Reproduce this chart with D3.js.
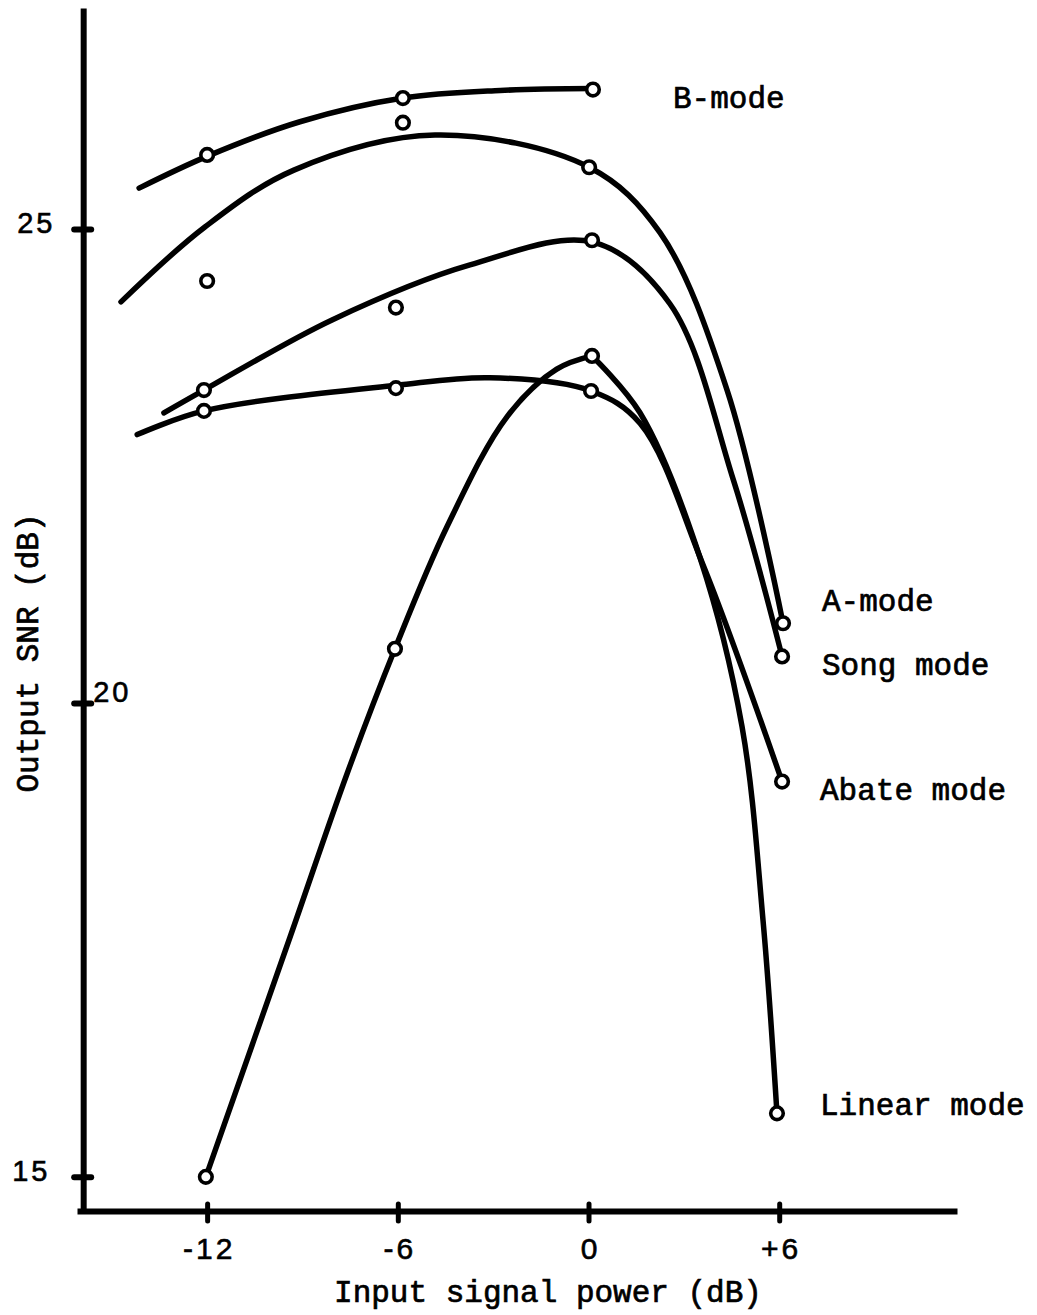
<!DOCTYPE html>
<html>
<head>
<meta charset="utf-8">
<script src="https://cdn.jsdelivr.net/npm/d3@7"></script>
<style>
  html, body { margin: 0; padding: 0; background: #fff; }
  svg { display: block; }
  .mono { font-family: "Liberation Mono", "Courier New", "DejaVu Sans Mono", monospace; fill: #000; stroke: #000; stroke-width: 0.7px; }
  .sans { font-family: "Liberation Sans", Arial, "DejaVu Sans", sans-serif; fill: #000; stroke: #000; stroke-width: 0.6px; }
</style>
</head>
<body>
<svg id="chart" width="1037" height="1315"></svg>
<script>
// Axis ticks
const xTicks = [-12, -6, 0, 6];
const xTickLabels = ["-12", "-6", "0", "+6"];
const yTicks = [15, 20, 25];
const yTickLabels = ["15", "20", "25"];

// Measured points (input signal power dB, output SNR dB)
const bModePtsX = [-12, -5.84, 0.14];
const bModePtsY = [25.78, 26.38, 26.47];
const aModePtsX = [-12, -5.84, 0.02, 6.12];
const aModePtsY = [24.45, 26.12, 25.65, 20.84];
const songPtsX = [-12.1, -6.06, 0.11, 6.09];
const songPtsY = [23.30, 24.17, 24.88, 20.49];
const abatePtsX = [-12.1, -6.06, 0.08, 6.09];
const abatePtsY = [23.08, 23.32, 23.29, 19.17];
const linearPtsX = [-12.04, -6.09, 0.11, 5.93];
const linearPtsY = [15.0, 20.57, 23.66, 15.67];

// Hand-fitted smooth curves drawn through each mode's results
const bModeCurveX = [-14.14, -11.97, -9.08, -5.84, -2.78, 0.14];
const bModeCurveY = [25.43, 25.77, 26.13, 26.38, 26.46, 26.48];
const aModeCurveX = [-14.71, -12.07, -9.27, -4.83, 0.02, 2.25, 4.36, 6.12];
const aModeCurveY = [24.23, 25.02, 25.62, 25.99, 25.65, 24.96, 23.30, 20.84];
const songCurveX = [-13.36, -12.1, -8.07, -3.73, 0.14, 2.56, 4.55, 6.09];
const songCurveY = [23.06, 23.30, 24.04, 24.62, 24.86, 24.21, 22.36, 20.49];
const abateCurveX = [-14.2, -12.1, -6.06, -3.1, 0.08, 1.62, 3.6, 6.09];
const abateCurveY = [22.83, 23.08, 23.35, 23.43, 23.29, 22.95, 21.46, 19.17];
// the linear-mode curve has a sharp peak at 0 dB, so it is drawn in two pieces
const linearRiseX = [-12.04, -9.39, -7.6, -6.09, -4.45, -2.56, -1.0, 0.11];
const linearRiseY = [15.0, 17.53, 19.25, 20.57, 21.86, 23.02, 23.52, 23.66];
const linearFallX = [0.11, 1.62, 3.51, 4.83, 5.49, 5.93];
const linearFallY = [23.66, 23.06, 21.53, 19.75, 17.71, 15.67];

const seriesNames = ["B-mode", "A-mode", "Song mode", "Abate mode", "Linear mode"];

const zip = (xs, ys) => xs.map((v, i) => ({ x: v, y: ys[i] }));
const series = [
  { name: seriesNames[0], curves: [zip(bModeCurveX, bModeCurveY)], pts: zip(bModePtsX, bModePtsY) },
  { name: seriesNames[1], curves: [zip(aModeCurveX, aModeCurveY)], pts: zip(aModePtsX, aModePtsY) },
  { name: seriesNames[2], curves: [zip(songCurveX, songCurveY)], pts: zip(songPtsX, songPtsY) },
  { name: seriesNames[3], curves: [zip(abateCurveX, abateCurveY)], pts: zip(abatePtsX, abatePtsY) },
  { name: seriesNames[4], curves: [zip(linearRiseX, linearRiseY), zip(linearFallX, linearFallY)], pts: zip(linearPtsX, linearPtsY) }
];

// Label placement in pixels
const labelPos = {
  "B-mode":      { x: 673, y: 108 },
  "A-mode":      { x: 822, y: 611 },
  "Song mode":   { x: 822, y: 675 },
  "Abate mode":  { x: 820, y: 800 },
  "Linear mode": { x: 820, y: 1115 }
};

const svg = d3.select("#chart");
const x = d3.scaleLinear().domain([-16, 11.5]).range([80, 954]);
const y = d3.scaleLinear().domain([14.64, 27.33]).range([1211, 8]);

// X axis
const gx = svg.append("g").attr("transform", `translate(0,${y(14.64)})`)
  .call(d3.axisBottom(x).tickValues(xTicks)
    .tickFormat((d, i) => xTickLabels[i]).tickSizeOuter(0).tickSizeInner(0));
gx.select(".domain").attr("stroke", "#000").attr("stroke-width", 6).attr("stroke-linecap", "square");
gx.selectAll(".tick text").attr("class", "sans").attr("y", 48).attr("dy", 0)
  .attr("font-size", 30).attr("letter-spacing", 3).attr("dx", 1.5).attr("font-family", null);
gx.selectAll(".tick").append("line")
  .attr("y1", -7).attr("y2", 10).attr("stroke", "#000").attr("stroke-width", 5)
  .attr("stroke-linecap", "round");

// Y axis
const gy = svg.append("g").attr("transform", `translate(${x(-15.9)},0)`)
  .call(d3.axisLeft(y).tickValues(yTicks).tickFormat((d, i) => yTickLabels[i])
    .tickSizeOuter(0).tickSizeInner(0));
gy.select(".domain").attr("stroke", "#000").attr("stroke-width", 6);
gy.selectAll(".tick line").remove();
gy.selectAll(".tick").append("line")
  .attr("x1", -9).attr("x2", 8).attr("stroke", "#000").attr("stroke-width", 6)
  .attr("stroke-linecap", "round");
// tick label offsets relative to axis line
const yLabelDx = { 15: -71, 20: 10, 25: -66 };
gy.selectAll(".tick text")
  .attr("font-family", null).attr("class", "sans")
  .attr("font-size", 29).attr("letter-spacing", 3)
  .attr("text-anchor", "start")
  .attr("x", d => yLabelDx[d]).attr("dy", d => d === 20 ? -1 : 4);

// Curves
const line = d3.line().x(d => x(d.x)).y(d => y(d.y)).curve(d3.curveCatmullRom.alpha(0.5));
svg.append("g").selectAll("path").data(series.flatMap(s => s.curves)).join("path")
  .attr("d", d => line(d))
  .attr("fill", "none").attr("stroke", "#000").attr("stroke-width", 5.5)
  .attr("stroke-linecap", "round").attr("stroke-linejoin", "round");

// Markers
svg.append("g").selectAll("g").data(series).join("g")
  .selectAll("circle").data(d => d.pts).join("circle")
  .attr("cx", d => x(d.x)).attr("cy", d => y(d.y)).attr("r", 6.3)
  .attr("fill", "#fff").attr("stroke", "#000").attr("stroke-width", 3.6);

// Series labels
svg.append("g").selectAll("text").data(series).join("text")
  .attr("class", "mono").attr("font-size", 31)
  .attr("x", d => labelPos[d.name].x).attr("y", d => labelPos[d.name].y)
  .text(d => d.name);

// Axis titles
svg.append("text").attr("class", "mono").attr("font-size", 31)
  .attr("x", 548).attr("y", 1302).attr("text-anchor", "middle")
  .text("Input signal power (dB)");
svg.append("text").attr("class", "mono").attr("font-size", 31)
  .attr("text-anchor", "middle")
  .attr("transform", "translate(38,653) rotate(-90)")
  .text("Output SNR (dB)");
</script>
</body>
</html>
